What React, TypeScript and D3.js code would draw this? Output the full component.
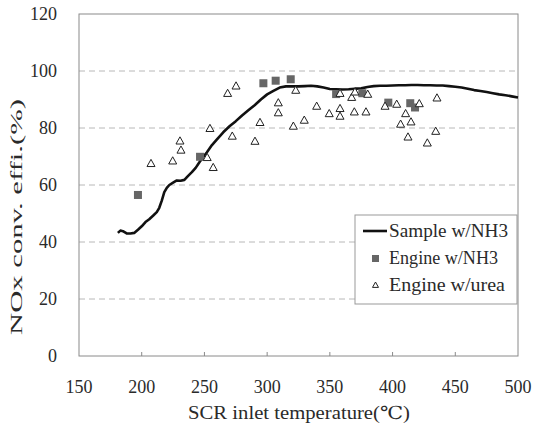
import React from "react";
import * as d3 from "d3";

const xTicks = [150, 200, 250, 300, 350, 400, 450, 500];
const yTicks = [0, 20, 40, 60, 80, 100, 120];

const sampleT = [181,183,185,188,191,194,197,200,203,206,209,212,214,216,218,220,222,225,228,231,234,237,240,243,246,249,252,256,260,265,270,275,280,285,290,295,300,305,310,315,320,325,330,335,340,345,350,355,360,365,370,375,380,385,390,395,400,405,410,415,420,425,430,435,440,445,450,455,460,465,470,475,480,485,490,495,500];
const sampleV = [43.2,44,43.8,43,43,43.2,44.3,45.5,47,48,49.2,50.5,52,54.5,57.5,59,60,60.8,61.6,61.5,61.8,63.2,64.5,66,68,69.8,71.5,74,76,78.5,80.6,82.4,84.4,86.2,88,90,91.8,93,94.2,94.6,94.6,94.6,94.7,94.8,94.6,94.2,93.7,93.6,93.5,93.6,93.8,93.9,94.4,94.7,94.8,94.8,94.9,95,95,95.1,95.1,95,95,94.9,94.9,94.7,94.5,94.2,93.8,93.3,93.0,92.6,92.2,91.8,91.5,91.1,90.7];

const nh3T = [197, 246.5, 297, 306.8, 318.8, 355, 375.9, 396.6, 414.1, 417.9];
const nh3V = [56.5, 69.9, 95.7, 96.6, 97.1, 91.9, 92.2, 88.9, 88.7, 87.2];

const ureaT = [207.4,224.7,231.3,230.5,252.2,257,254.4,268.5,275.2,272.2,294.3,290.3,308.9,308.9,322.8,320.9,329.6,339.5,349.5,358.1,358.1,358.1,367.4,370,369.5,378.8,380.2,394,403.3,410.4,406.4,414.7,412.3,421.3,427.7,434.4,435.4];
const ureaV = [67.6,68.5,72.3,75.5,69.7,66.2,79.9,92.2,94.8,77.2,82,75.4,88.9,85.4,93.3,80.7,82.8,87.7,85.1,92.2,86.9,84.2,90.8,92.7,85.7,85.7,91.9,87.7,88.4,85.1,81.4,82.2,76.9,88.6,74.8,78.9,90.6];

const legendLabels = ["Sample w/NH3", "Engine w/NH3", "Engine w/urea"];

const FONT = "'Liberation Serif', 'DejaVu Serif', serif";

export default function App() {
  const W = 534, H = 423;
  const x = d3.scaleLinear().domain([150, 500]).range([79, 518]);
  const y = d3.scaleLinear().domain([0, 120]).range([356, 14]);
  const line = d3.line<number>().x((_, i) => x(sampleT[i])).y((d) => y(d)).curve(d3.curveLinear);
  const tri = (cx: number, cy: number, s = 4) =>
    `M${cx},${cy - s} L${cx + s},${cy + s * 0.8} L${cx - s},${cy + s * 0.8} Z`;

  return (
    <svg width={W} height={H} style={{ position: "absolute", left: 0, top: 0, background: "#fff" }}>
      <rect x={0} y={0} width={W} height={H} fill="#fff" />
      {yTicks.filter((t) => t > 0 && t < 120).map((t) => (
        <line key={"g" + t} x1={x(150)} x2={x(500)} y1={y(t)} y2={y(t)} stroke="#b8b8b8" strokeWidth={1} strokeDasharray="6,4" />
      ))}
      <rect x={x(150)} y={y(120)} width={x(500) - x(150)} height={y(0) - y(120)} fill="none" stroke="#8a8a8a" strokeWidth={1} />
      {xTicks.filter((t) => t > 150 && t < 500).map((t) => (
        <line key={"xt" + t} x1={x(t)} x2={x(t)} y1={y(0)} y2={y(0) - 4} stroke="#8a8a8a" />
      ))}
      {yTicks.map((t) => (
        <text key={"yl" + t} x={57} y={y(t) + 6} textAnchor="end" fontFamily={FONT} fontSize={18} fill="#2a2a2a">{t}</text>
      ))}
      {xTicks.map((t) => (
        <text key={"xl" + t} x={x(t)} y={393} textAnchor="middle" fontFamily={FONT} fontSize={18} fill="#2a2a2a">{t}</text>
      ))}
      <text x={299} y={419} textAnchor="middle" fontFamily={FONT} fontSize={18} fill="#2a2a2a" textLength={222} lengthAdjust="spacingAndGlyphs">SCR inlet temperature(℃)</text>
      <text transform="translate(22,217) rotate(-90)" textAnchor="middle" fontFamily={FONT} fontSize={17} fill="#2a2a2a" textLength={236} lengthAdjust="spacingAndGlyphs">NOx conv. effi.(%)</text>

      <path d={line(sampleV) || ""} fill="none" stroke="#111" strokeWidth={2.6} strokeLinejoin="round" />
      {nh3T.map((t, i) => (
        <rect key={"s" + i} x={x(t) - 4} y={y(nh3V[i]) - 4} width={8} height={8} fill="#666" />
      ))}
      {ureaT.map((t, i) => (
        <path key={"u" + i} d={tri(x(t), y(ureaV[i]))} fill="#fff" stroke="#222" strokeWidth={1} />
      ))}

      <rect x={355} y={215} width={162} height={89} fill="#fff" stroke="#999" strokeWidth={1} />
      <line x1={363} x2={387} y1={231} y2={231} stroke="#111" strokeWidth={2.6} />
      <rect x={372} y={255} width={7} height={7} fill="#666" />
      <path d={tri(375.5, 285, 3)} fill="#fff" stroke="#222" strokeWidth={1} />
      {legendLabels.map((l, i) => (
        <text key={"lg" + i} x={389} y={237 + i * 27} fontFamily={FONT} fontSize={18} fill="#2a2a2a" textLength={[119, 109, 116][i]} lengthAdjust="spacingAndGlyphs">{l}</text>
      ))}
    </svg>
  );
}
